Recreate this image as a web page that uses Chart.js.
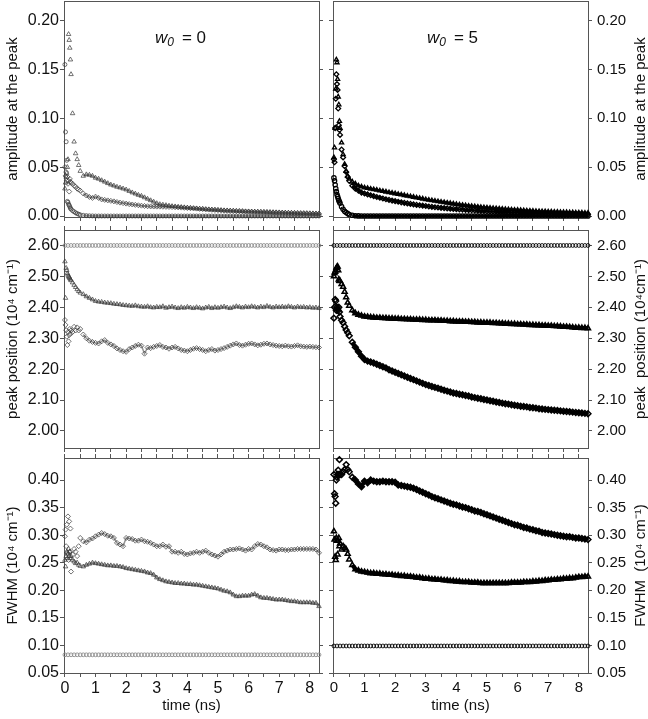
<!DOCTYPE html>
<html>
<head>
<meta charset="utf-8">
<script src="https://cdn.jsdelivr.net/npm/chart.js"></script>
<style>
    body { margin: 0; background: #fff; }
    #figure { position: relative; width: 648px; height: 719px; }
    #figure canvas { position: absolute; }
</style>
</head>
<body>
<div id="figure">
    <canvas id="ampL" width="330" height="230" style="left:0px;top:0px"></canvas>
    <canvas id="ampR" width="326" height="230" style="left:322px;top:0px"></canvas>
    <canvas id="posL" width="330" height="228" style="left:0px;top:225px"></canvas>
    <canvas id="posR" width="326" height="228" style="left:322px;top:225px"></canvas>
    <canvas id="fwhmL" width="330" height="266" style="left:0px;top:453px"></canvas>
    <canvas id="fwhmR" width="326" height="266" style="left:322px;top:453px"></canvas>
</div>
<script>
"use strict"


// time (ns) of the fitted spectra, finer at the start
const time = [
    0, 0.02, 0.04, 0.06, 0.08, 0.1, 0.12, 0.14, 0.16, 0.18, 0.2, 0.25, 0.3, 0.35, 0.4, 0.45, 0.5,
    0.6, 0.7, 0.8, 0.9, 1,
    1.1, 1.2, 1.3, 1.4, 1.5, 1.6, 1.7, 1.8, 1.9, 2,
    2.1, 2.2, 2.3, 2.4, 2.5, 2.6, 2.7, 2.8, 2.9, 3,
    3.1, 3.2, 3.3, 3.4, 3.5, 3.6, 3.7, 3.8, 3.9, 4,
    4.1, 4.2, 4.3, 4.4, 4.5, 4.6, 4.7, 4.8, 4.9, 5,
    5.1, 5.2, 5.3, 5.4, 5.5, 5.6, 5.7, 5.8, 5.9, 6,
    6.1, 6.2, 6.3, 6.4, 6.5, 6.6, 6.7, 6.8, 6.9, 7,
    7.1, 7.2, 7.3, 7.4, 7.5, 7.6, 7.7, 7.8, 7.9, 8,
    8.1, 8.2, 8.3
];

// time grid of the fixed (unrelaxed) band
const timeConst = [
    0, 0.1, 0.2, 0.3, 0.4, 0.5, 0.6, 0.7, 0.8, 0.9,
    1, 1.1, 1.2, 1.3, 1.4, 1.5, 1.6, 1.7, 1.8, 1.9,
    2, 2.1, 2.2, 2.3, 2.4, 2.5, 2.6, 2.7, 2.8, 2.9,
    3, 3.1, 3.2, 3.3, 3.4, 3.5, 3.6, 3.7, 3.8, 3.9,
    4, 4.1, 4.2, 4.3, 4.4, 4.5, 4.6, 4.7, 4.8, 4.9,
    5, 5.1, 5.2, 5.3, 5.4, 5.5, 5.6, 5.7, 5.8, 5.9,
    6, 6.1, 6.2, 6.3, 6.4, 6.5, 6.6, 6.7, 6.8, 6.9,
    7, 7.1, 7.2, 7.3, 7.4, 7.5, 7.6, 7.7, 7.8, 7.9,
    8, 8.1, 8.2, 8.3
];

// ---- amplitude at the peak, w0 = 0 ----
const ampCirL = [
    0.155, 0.086, 0.076, 0.057, 0.015, 0.014, 0.012, 0.011, 0.0095, 0.008, 0.007, 0.0055, 0.0044, 0.0033, 0.0025, 0.0018, 0.0012,
    0.0007, 0.0004, 0.0002, 0.0001, 0,
    0, 0, 0, 0, 0, 0, 0, 0, 0, 0,
    0, 0, 0, 0, 0, 0, 0, 0, 0, 0,
    0, 0, 0, 0, 0, 0, 0, 0, 0, 0,
    0, 0, 0, 0, 0, 0, 0, 0, 0, 0,
    0, 0, 0, 0, 0, 0, 0, 0, 0, 0,
    0, 0, 0, 0, 0, 0, 0, 0, 0, 0,
    0, 0, 0, 0, 0, 0, 0, 0, 0, 0,
    0, 0, 0
];
const ampTriL = [
    0.028, 0.034, 0.04, 0.044, 0.05, 0.058, 0.186, 0.18, 0.172, 0.16, 0.145, 0.105, 0.076, 0.064, 0.058, 0.052, 0.046,
    0.041, 0.0425, 0.042, 0.041, 0.039,
    0.038, 0.0365, 0.035, 0.0335, 0.032, 0.031, 0.0298, 0.029, 0.028, 0.027,
    0.0255, 0.024, 0.0228, 0.0215, 0.0205, 0.019, 0.0175, 0.016, 0.0145, 0.013,
    0.012, 0.0115, 0.011, 0.0105, 0.01, 0.0097, 0.0094, 0.0091, 0.0088, 0.0085,
    0.0082, 0.0079, 0.0077, 0.0074, 0.0072, 0.0069, 0.0067, 0.0065, 0.0063, 0.0061,
    0.0059, 0.0057, 0.0056, 0.0054, 0.0053, 0.0051, 0.005, 0.0049, 0.0047, 0.0046,
    0.0045, 0.0044, 0.0043, 0.0042, 0.0041, 0.004, 0.0039, 0.0038, 0.0037, 0.0036,
    0.0035, 0.0034, 0.0033, 0.0032, 0.0031, 0.003, 0.0029, 0.0028, 0.0028, 0.0027,
    0.0026, 0.0025, 0.0025
];
const ampDiaL = [
    0.05, 0.041, 0.045, 0.036, 0.04, 0.033, 0.036, 0.025, 0.038, 0.035, 0.034, 0.033, 0.031, 0.03, 0.028, 0.027, 0.026,
    0.023, 0.021, 0.0195, 0.0185, 0.0198,
    0.0185, 0.017, 0.0165, 0.016, 0.0155, 0.015, 0.0143, 0.0137, 0.0132, 0.0127,
    0.0122, 0.0118, 0.0114, 0.011, 0.0106, 0.0103, 0.01, 0.0098, 0.0097, 0.0096,
    0.0096, 0.0095, 0.0094, 0.0093, 0.0092, 0.009, 0.0088, 0.0086, 0.0084, 0.0082,
    0.008, 0.0078, 0.0076, 0.0073, 0.0071, 0.0068, 0.0066, 0.0064, 0.0062, 0.006,
    0.0058, 0.0056, 0.0055, 0.0053, 0.0052, 0.005, 0.0049, 0.0048, 0.0046, 0.0045,
    0.0044, 0.0043, 0.0042, 0.0041, 0.004, 0.0039, 0.0038, 0.0037, 0.0036, 0.0035,
    0.0034, 0.0033, 0.0032, 0.0031, 0.003, 0.0029, 0.0028, 0.0028, 0.0027, 0.0026,
    0.0025, 0.0025, 0.0024
];

// ---- amplitude at the peak, w0 = 5 ----
const ampCirR = [
    0.039, 0.036, 0.032, 0.028, 0.025, 0.022, 0.02, 0.018, 0.016, 0.0145, 0.013, 0.0096, 0.007, 0.0048, 0.0035, 0.0025, 0.0015,
    0.0008, 0.0003, 0.0001, 0, 0,
    0, 0, 0, 0, 0, 0, 0, 0, 0, 0,
    0, 0, 0, 0, 0, 0, 0, 0, 0, 0,
    0, 0, 0, 0, 0, 0, 0, 0, 0, 0,
    0, 0, 0, 0, 0, 0, 0, 0, 0, 0,
    0, 0, 0, 0, 0, 0, 0, 0, 0, 0,
    0, 0, 0, 0, 0, 0, 0, 0, 0, 0,
    0, 0, 0, 0, 0, 0, 0, 0, 0, 0,
    0, 0, 0
];
const ampTriR = [
    0.06, 0.07, 0.09, 0.13, 0.16, 0.157, 0.14, 0.122, 0.114, 0.097, 0.09, 0.075, 0.063, 0.053, 0.046, 0.041, 0.038,
    0.035, 0.033, 0.031, 0.03, 0.029,
    0.0284, 0.0278, 0.0272, 0.0266, 0.026, 0.0254, 0.0248, 0.0242, 0.0236, 0.023,
    0.0224, 0.0218, 0.0212, 0.0206, 0.02, 0.0194, 0.0188, 0.0182, 0.0176, 0.017,
    0.0165, 0.016, 0.0155, 0.015, 0.0145, 0.014, 0.0135, 0.013, 0.0125, 0.012,
    0.0116, 0.0112, 0.0108, 0.0104, 0.01, 0.0097, 0.0094, 0.0091, 0.0088, 0.0085,
    0.0082, 0.0079, 0.0077, 0.0074, 0.0072, 0.0069, 0.0067, 0.0065, 0.0063, 0.0061,
    0.0059, 0.0057, 0.0055, 0.0053, 0.0051, 0.005, 0.0048, 0.0047, 0.0046, 0.0044,
    0.0043, 0.0042, 0.0041, 0.004, 0.0039, 0.0038, 0.0037, 0.0036, 0.0035, 0.0034,
    0.0033, 0.0032, 0.0032
];
const ampDiaR = [
    0.058, 0.055, 0.09, 0.12, 0.145, 0.135, 0.129, 0.11, 0.093, 0.088, 0.083, 0.068, 0.06, 0.051, 0.045, 0.04, 0.036,
    0.031, 0.028, 0.026, 0.024, 0.023,
    0.0221, 0.0212, 0.0203, 0.0195, 0.0187, 0.0179, 0.0172, 0.0165, 0.0158, 0.0152,
    0.0146, 0.014, 0.0134, 0.0129, 0.0124, 0.0119, 0.0114, 0.011, 0.0106, 0.0102,
    0.0098, 0.0094, 0.009, 0.0087, 0.0084, 0.0081, 0.0078, 0.0075, 0.0072, 0.007,
    0.0068, 0.0066, 0.0063, 0.0061, 0.0059, 0.0057, 0.0055, 0.0053, 0.0051, 0.0049,
    0.0047, 0.0046, 0.0044, 0.0043, 0.0041, 0.004, 0.0039, 0.0037, 0.0036, 0.0035,
    0.0034, 0.0033, 0.0032, 0.0031, 0.003, 0.0029, 0.0028, 0.0027, 0.0027, 0.0026,
    0.0025, 0.0024, 0.0024, 0.0023, 0.0022, 0.0022, 0.0021, 0.0021, 0.002, 0.002,
    0.0019, 0.0019, 0.0018
];

// ---- peak position (10^4 cm-1), w0 = 0 ----
const posConstL = [
    2.6, 2.6, 2.6, 2.6, 2.6, 2.6, 2.6, 2.6, 2.6, 2.6,
    2.6, 2.6, 2.6, 2.6, 2.6, 2.6, 2.6, 2.6, 2.6, 2.6,
    2.6, 2.6, 2.6, 2.6, 2.6, 2.6, 2.6, 2.6, 2.6, 2.6,
    2.6, 2.6, 2.6, 2.6, 2.6, 2.6, 2.6, 2.6, 2.6, 2.6,
    2.6, 2.6, 2.6, 2.6, 2.6, 2.6, 2.6, 2.6, 2.6, 2.6,
    2.6, 2.6, 2.6, 2.6, 2.6, 2.6, 2.6, 2.6, 2.6, 2.6,
    2.6, 2.6, 2.6, 2.6, 2.6, 2.6, 2.6, 2.6, 2.6, 2.6,
    2.6, 2.6, 2.6, 2.6, 2.6, 2.6, 2.6, 2.6, 2.6, 2.6,
    2.6, 2.6, 2.6, 2.6
];
const posTriL = [
    2.548, 2.43, 2.527, 2.52, 2.51, 2.505, 2.5, 2.497, 2.494, 2.49, 2.487, 2.48, 2.472, 2.465, 2.458, 2.452, 2.447,
    2.442, 2.435, 2.43, 2.425, 2.42,
    2.418, 2.417, 2.415, 2.414, 2.413, 2.411, 2.41, 2.409, 2.407, 2.406,
    2.405, 2.404, 2.406, 2.403, 2.402, 2.401, 2.403, 2.4, 2.399, 2.401,
    2.4, 2.403, 2.398, 2.4, 2.402, 2.399, 2.397, 2.4, 2.398, 2.401,
    2.399, 2.397, 2.4, 2.398, 2.396, 2.399, 2.401, 2.397, 2.4, 2.398,
    2.4, 2.402, 2.399, 2.397, 2.4, 2.403, 2.401, 2.399, 2.402, 2.4,
    2.403, 2.401, 2.399, 2.402, 2.4, 2.404, 2.401, 2.399, 2.402, 2.4,
    2.402, 2.4, 2.403, 2.401, 2.399, 2.402, 2.4, 2.401, 2.399, 2.4,
    2.398, 2.399, 2.397
];
const posDiaL = [
    2.359, 2.343, 2.326, 2.305, 2.278, 2.32, 2.29, 2.31, 2.33, 2.315, 2.325, 2.32, 2.337, 2.325, 2.335, 2.325, 2.33,
    2.312, 2.3, 2.292, 2.288, 2.285,
    2.283, 2.29, 2.294, 2.285, 2.28, 2.275, 2.267, 2.262, 2.258, 2.256,
    2.265, 2.27, 2.275, 2.279, 2.276, 2.25, 2.27, 2.268, 2.272, 2.275,
    2.278, 2.272, 2.27, 2.266, 2.27, 2.272, 2.267, 2.262, 2.26, 2.258,
    2.262, 2.266, 2.268, 2.265, 2.262, 2.258, 2.262, 2.265, 2.26, 2.262,
    2.265, 2.268, 2.272, 2.276, 2.28, 2.283, 2.278, 2.276, 2.279, 2.282,
    2.283, 2.28, 2.277, 2.279, 2.282, 2.283, 2.28, 2.278, 2.276, 2.275,
    2.274, 2.276, 2.274, 2.273, 2.275, 2.277, 2.274, 2.273, 2.272, 2.273,
    2.272, 2.271, 2.27
];

// ---- peak position (10^4 cm-1), w0 = 5 ----
const posConstR = [
    2.6, 2.6, 2.6, 2.6, 2.6, 2.6, 2.6, 2.6, 2.6, 2.6,
    2.6, 2.6, 2.6, 2.6, 2.6, 2.6, 2.6, 2.6, 2.6, 2.6,
    2.6, 2.6, 2.6, 2.6, 2.6, 2.6, 2.6, 2.6, 2.6, 2.6,
    2.6, 2.6, 2.6, 2.6, 2.6, 2.6, 2.6, 2.6, 2.6, 2.6,
    2.6, 2.6, 2.6, 2.6, 2.6, 2.6, 2.6, 2.6, 2.6, 2.6,
    2.6, 2.6, 2.6, 2.6, 2.6, 2.6, 2.6, 2.6, 2.6, 2.6,
    2.6, 2.6, 2.6, 2.6, 2.6, 2.6, 2.6, 2.6, 2.6, 2.6,
    2.6, 2.6, 2.6, 2.6, 2.6, 2.6, 2.6, 2.6, 2.6, 2.6,
    2.6, 2.6, 2.6, 2.6
];
const posTriR = [
    2.5, 2.51, 2.515, 2.52, 2.527, 2.53, 2.532, 2.52, 2.49, 2.486, 2.485, 2.475, 2.466, 2.45, 2.432, 2.415, 2.405,
    2.39, 2.381, 2.376, 2.373, 2.37,
    2.369, 2.368, 2.367, 2.366, 2.366, 2.365, 2.365, 2.364, 2.364, 2.363,
    2.363, 2.362, 2.362, 2.361, 2.361, 2.36, 2.36, 2.36, 2.359, 2.359,
    2.358, 2.358, 2.358, 2.357, 2.357, 2.356, 2.356, 2.355, 2.355, 2.354,
    2.354, 2.354, 2.353, 2.353, 2.352, 2.352, 2.351, 2.351, 2.35, 2.35,
    2.35, 2.349, 2.349, 2.348, 2.348, 2.347, 2.347, 2.346, 2.346, 2.345,
    2.345, 2.344, 2.344, 2.343, 2.343, 2.342, 2.342, 2.341, 2.341, 2.34,
    2.34, 2.339, 2.339, 2.338, 2.337, 2.337, 2.336, 2.335, 2.334, 2.334,
    2.333, 2.333, 2.332
];
const posDiaR = [
    2.365, 2.4, 2.425, 2.42, 2.39, 2.4, 2.395, 2.39, 2.4, 2.385, 2.37, 2.358, 2.35, 2.338, 2.327, 2.318, 2.308,
    2.287, 2.271, 2.256, 2.242, 2.231,
    2.226, 2.223, 2.22, 2.216, 2.212, 2.208, 2.204, 2.198, 2.194, 2.19,
    2.186, 2.182, 2.178, 2.174, 2.17, 2.166, 2.162, 2.158, 2.154, 2.15,
    2.147, 2.144, 2.141, 2.138, 2.135, 2.132, 2.129, 2.126, 2.123, 2.121,
    2.119, 2.117, 2.115, 2.113, 2.11, 2.108, 2.106, 2.104, 2.102, 2.1,
    2.098, 2.096, 2.094, 2.092, 2.09, 2.088, 2.087, 2.085, 2.083, 2.082,
    2.08, 2.079, 2.078, 2.076, 2.075, 2.074, 2.072, 2.071, 2.07, 2.069,
    2.068, 2.067, 2.066, 2.065, 2.064, 2.063, 2.062, 2.061, 2.06, 2.059,
    2.058, 2.057, 2.056
];

// ---- FWHM (10^4 cm-1), w0 = 0 ----
const fwhmConstL = [
    0.083, 0.083, 0.083, 0.083, 0.083, 0.083, 0.083, 0.083, 0.083, 0.083,
    0.083, 0.083, 0.083, 0.083, 0.083, 0.083, 0.083, 0.083, 0.083, 0.083,
    0.083, 0.083, 0.083, 0.083, 0.083, 0.083, 0.083, 0.083, 0.083, 0.083,
    0.083, 0.083, 0.083, 0.083, 0.083, 0.083, 0.083, 0.083, 0.083, 0.083,
    0.083, 0.083, 0.083, 0.083, 0.083, 0.083, 0.083, 0.083, 0.083, 0.083,
    0.083, 0.083, 0.083, 0.083, 0.083, 0.083, 0.083, 0.083, 0.083, 0.083,
    0.083, 0.083, 0.083, 0.083, 0.083, 0.083, 0.083, 0.083, 0.083, 0.083,
    0.083, 0.083, 0.083, 0.083, 0.083, 0.083, 0.083, 0.083, 0.083, 0.083,
    0.083, 0.083, 0.083, 0.083
];
const fwhmDiaL = [
    0.298, 0.31, 0.28, 0.319, 0.268, 0.334, 0.255, 0.325, 0.27, 0.312, 0.234, 0.265, 0.275, 0.27, 0.262, 0.28, 0.295,
    0.289, 0.287, 0.292, 0.294, 0.298,
    0.301, 0.304, 0.302, 0.299, 0.298, 0.295, 0.286, 0.283, 0.28, 0.295,
    0.294, 0.293, 0.29, 0.29, 0.292, 0.289, 0.288, 0.286, 0.283, 0.28,
    0.28, 0.283, 0.279, 0.28, 0.27, 0.27, 0.268, 0.27, 0.266, 0.265,
    0.267, 0.268, 0.27, 0.268, 0.27, 0.272, 0.268, 0.265, 0.263, 0.261,
    0.265, 0.27, 0.272, 0.274, 0.274, 0.275, 0.276, 0.274, 0.272, 0.275,
    0.274, 0.28, 0.284, 0.283, 0.28, 0.278, 0.274, 0.273, 0.272, 0.274,
    0.274, 0.273, 0.273, 0.274, 0.274, 0.275, 0.275, 0.275, 0.275, 0.275,
    0.275, 0.274, 0.268
];
const fwhmTriL = [
    0.255, 0.243, 0.262, 0.27, 0.258, 0.266, 0.275, 0.262, 0.27, 0.258, 0.262, 0.255, 0.252, 0.249, 0.25, 0.246, 0.244,
    0.243, 0.246, 0.248, 0.25, 0.249,
    0.248, 0.247, 0.246, 0.245, 0.245, 0.244, 0.244, 0.243, 0.242, 0.24,
    0.239, 0.238, 0.237, 0.236, 0.235, 0.234, 0.232, 0.231, 0.228, 0.223,
    0.22, 0.218, 0.216, 0.215, 0.214, 0.213, 0.213, 0.212, 0.212, 0.211,
    0.211, 0.21, 0.21, 0.209, 0.208, 0.207, 0.206, 0.205, 0.204, 0.203,
    0.201, 0.199, 0.198, 0.196, 0.192, 0.189, 0.189, 0.19, 0.19, 0.19,
    0.192, 0.193, 0.19, 0.187, 0.186, 0.186, 0.185, 0.184, 0.183, 0.183,
    0.183, 0.182, 0.181, 0.18, 0.18, 0.179, 0.178, 0.178, 0.178, 0.178,
    0.177, 0.177, 0.171
];

// ---- FWHM (10^4 cm-1), w0 = 5 ----
const fwhmConstR = [
    0.099, 0.099, 0.099, 0.099, 0.099, 0.099, 0.099, 0.099, 0.099, 0.099,
    0.099, 0.099, 0.099, 0.099, 0.099, 0.099, 0.099, 0.099, 0.099, 0.099,
    0.099, 0.099, 0.099, 0.099, 0.099, 0.099, 0.099, 0.099, 0.099, 0.099,
    0.099, 0.099, 0.099, 0.099, 0.099, 0.099, 0.099, 0.099, 0.099, 0.099,
    0.099, 0.099, 0.099, 0.099, 0.099, 0.099, 0.099, 0.099, 0.099, 0.099,
    0.099, 0.099, 0.099, 0.099, 0.099, 0.099, 0.099, 0.099, 0.099, 0.099,
    0.099, 0.099, 0.099, 0.099, 0.099, 0.099, 0.099, 0.099, 0.099, 0.099,
    0.099, 0.099, 0.099, 0.099, 0.099, 0.099, 0.099, 0.099, 0.099, 0.099,
    0.099, 0.099, 0.099, 0.099
];
const fwhmDiaR = [
    0.41, 0.375, 0.37, 0.358, 0.4, 0.405, 0.41, 0.418, 0.41, 0.437, 0.41, 0.41, 0.415, 0.419, 0.428, 0.419, 0.415,
    0.405, 0.4, 0.393, 0.388, 0.398,
    0.395, 0.4, 0.398, 0.397, 0.397, 0.398, 0.397, 0.397, 0.397, 0.396,
    0.391, 0.39, 0.389, 0.388, 0.387, 0.385, 0.383, 0.38, 0.378, 0.375,
    0.373, 0.37, 0.368, 0.366, 0.364, 0.362, 0.36, 0.358, 0.356, 0.355,
    0.353, 0.351, 0.35, 0.348, 0.346, 0.344, 0.343, 0.341, 0.339, 0.337,
    0.335, 0.333, 0.331, 0.329, 0.327, 0.325, 0.323, 0.321, 0.319, 0.318,
    0.316, 0.314, 0.313, 0.311, 0.31, 0.308, 0.307, 0.305, 0.304, 0.303,
    0.302, 0.301, 0.3, 0.299, 0.298, 0.297, 0.297, 0.296, 0.295, 0.295,
    0.294, 0.293, 0.292
];
const fwhmTriR = [
    0.307, 0.292, 0.261, 0.255, 0.295, 0.29, 0.265, 0.29, 0.295, 0.28, 0.285, 0.274, 0.28, 0.277, 0.274, 0.266, 0.256,
    0.246, 0.238, 0.236, 0.234, 0.233,
    0.232, 0.231, 0.231, 0.23, 0.23, 0.229, 0.229, 0.228, 0.228, 0.227,
    0.227, 0.226, 0.226, 0.225, 0.225, 0.224, 0.223, 0.223, 0.222, 0.221,
    0.221, 0.22, 0.22, 0.219, 0.219, 0.218, 0.218, 0.217, 0.217, 0.216,
    0.216, 0.215, 0.215, 0.215, 0.214, 0.214, 0.214, 0.213, 0.213, 0.213,
    0.213, 0.213, 0.213, 0.213, 0.213, 0.213, 0.213, 0.214, 0.214, 0.214,
    0.214, 0.215, 0.215, 0.215, 0.216, 0.216, 0.217, 0.217, 0.218, 0.218,
    0.219, 0.219, 0.22, 0.22, 0.221, 0.221, 0.222, 0.222, 0.223, 0.224,
    0.224, 0.225, 0.225
];


const look =
{
    ink: '#111',
    frame: '#555',
    family: 'Arial, "Liberation Sans", sans-serif',
    greyDense: 'rgba(55,55,55,0.7)',
    greyBand: 'rgba(60,60,60,0.55)',
    greyConst: '#8c8c8c',
    black: '#000'
};


// italic w with subscript 0 in the panel, and the right-hand axis titles read bottom to top
const panelText =
{
    id: 'panelText',
    afterDraw(chart, args, opts)
    {
        const ctx = chart.ctx;
        const area = chart.chartArea;
        ctx.save();
        ctx.fillStyle = look.ink;

        if (opts.tag !== undefined)
        {
            let x = area.left + opts.tagX;
            const y = area.top + 42;
            ctx.textBaseline = 'alphabetic';
            ctx.font = 'italic 17px ' + look.family;
            ctx.fillText('w', x, y);
            x += ctx.measureText('w').width;
            ctx.font = 'italic 12px ' + look.family;
            ctx.fillText('0', x, y + 3);
            x += ctx.measureText('0').width + 8;
            ctx.font = '17px ' + look.family;
            ctx.fillText('= ' + opts.tag, x, y);
        }

        if (opts.rightTitle)
        {
            ctx.translate(chart.width - 7, (area.top + area.bottom) / 2);
            ctx.rotate(-Math.PI / 2);
            ctx.textAlign = 'center';
            ctx.textBaseline = 'middle';
            ctx.font = '15px ' + look.family;
            ctx.fillText(opts.rightTitle, 0, 0);
        }
        ctx.restore();
    }
};


// hollow markers; where the samples crowd together (after ~0.5 ns) a joining band fills the gaps
function markers(xs, ys, style, radius, color, width, band, bandColor)
{
    return {
        data: xs.map((x, i) => ({ x: x, y: ys[i] })),
        pointStyle: style,
        pointRadius: radius,
        pointHoverRadius: radius,
        pointBorderWidth: width,
        pointBorderColor: color,
        pointBackgroundColor: 'rgba(0,0,0,0)',
        showLine: band > 0,
        borderWidth: band || 0,
        borderColor: bandColor || color,
        segment:
        {
            borderColor: ctx => ctx.p0.parsed.x < 0.55 ? 'rgba(0,0,0,0)' : undefined
        },
        clip: false
    };
}


// fixed box sizes so that the six plot areas line up like the original figure
function fixSize(size)
{
    return s =>
    {
        if (s.isHorizontal()) s.height = size;
        else s.width = size;
        s.paddingTop = 0;
        s.paddingBottom = 0;
        s.paddingLeft = 0;
        s.paddingRight = 0;
    };
}


function panel(id, side, row, yAxis, datasets, tag)
{
    const left = side === 'L';
    const tickFont = { family: look.family, size: left ? 16 : 15 };
    const titleFont = { family: look.family, size: 15 };
    const xRange = { min: -0.03, max: 8.3 };

    const bottomHeight = { top: 13, mid: 5, bottom: 46 }[row];

    const scales =
    {
        x:
        {
            type: 'linear', axis: 'x', position: 'bottom',
            min: xRange.min, max: xRange.max,
            ticks:
            {
                stepSize: 0.5, includeBounds: false, display: row === 'bottom',
                font: tickFont, color: look.ink, padding: 2, maxRotation: 0,
                callback: v => Math.abs(v - Math.round(v)) < 1e-6 ? String(Math.round(v)) : ''
            },
            grid: { drawOnChartArea: false, tickLength: 4, color: look.frame },
            border: { color: look.frame },
            title: { display: row === 'bottom', text: 'time (ns)', font: titleFont, color: look.ink },
            afterFit: fixSize(bottomHeight)
        },
        xt:
        {
            type: 'linear', axis: 'x', position: 'top',
            min: xRange.min, max: xRange.max,
            ticks: { stepSize: 0.5, includeBounds: false, display: false },
            grid: { drawOnChartArea: false, drawTicks: row !== 'top', tickLength: 4, color: look.frame },
            border: { color: look.frame },
            afterFit: fixSize(row === 'top' ? 1 : 5)
        },
        y:
        {
            type: 'linear', axis: 'y', position: left ? 'left' : 'right',
            min: yAxis.min, max: yAxis.max,
            ticks:
            {
                stepSize: yAxis.step, includeBounds: false,
                font: tickFont, color: look.ink, padding: left ? 1 : 5,
                callback: v => v.toFixed(2)
            },
            grid: { drawOnChartArea: false, tickLength: 4, color: look.frame },
            border: { color: look.frame },
            title: { display: left, text: yAxis.title, font: titleFont, color: look.ink },
            afterFit: fixSize(left ? 64 : 60)
        },
        y2:
        {
            type: 'linear', axis: 'y', position: left ? 'right' : 'left',
            min: yAxis.min, max: yAxis.max,
            ticks: { stepSize: yAxis.step, includeBounds: false, display: false },
            grid: { drawOnChartArea: false, tickLength: 4, color: look.frame },
            border: { color: look.frame },
            afterFit: fixSize(11)
        }
    };

    new Chart(document.getElementById(id),
    {
        type: 'scatter',
        data: { datasets: datasets },
        options:
        {
            responsive: false,
            animation: false,
            events: [],
            layout: { padding: 0, autoPadding: false },
            scales: scales,
            plugins:
            {
                legend: { display: false },
                tooltip: { enabled: false },
                panelText:
                {
                    tag: tag ? tag.text : undefined,
                    tagX: tag ? tag.x : 0,
                    rightTitle: left ? null : yAxis.title
                }
            }
        },
        plugins: [panelText]
    });
}


window.onload = () =>
{
    Chart.defaults.font.family = look.family;
    Chart.defaults.color = look.ink;

    const ampAxis = { min: -0.001, max: 0.22, step: 0.05, title: 'amplitude at the peak' };
    const posAxisL = { min: 1.945, max: 2.65, step: 0.1, title: 'peak position (10\u2074 cm\u207B\u00B9)' };
    const posAxisR = { min: 1.945, max: 2.65, step: 0.1, title: 'peak  position (10\u2074cm\u207B\u00B9)' };
    const fwhmAxisL = { min: 0.05, max: 0.44, step: 0.05, title: 'FWHM (10\u2074 cm\u207B\u00B9)' };
    const fwhmAxisR = { min: 0.05, max: 0.44, step: 0.05, title: 'FWHM  (10\u2074 cm\u207B\u00B9)' };

    const g = look.greyDense;
    const gb = look.greyBand;
    const k = look.black;

    panel('ampL', 'L', 'top', ampAxis,
    [
        markers(time, ampCirL, 'circle', 2, g, 1, 2, gb),
        markers(time, ampDiaL, 'rectRot', 2.5, g, 1, 2, gb),
        markers(time, ampTriL, 'triangle', 2.6, g, 1, 2, gb)
    ], { text: '0', x: 91 });

    panel('ampR', 'R', 'top', ampAxis,
    [
        markers(time, ampCirR, 'circle', 2.2, k, 1.2, 3),
        markers(time, ampDiaR, 'rectRot', 2.4, k, 1.3, 2.5),
        markers(time, ampTriR, 'triangle', 2.4, k, 1.3, 2.5)
    ], { text: '5', x: 94 });

    panel('posL', 'L', 'mid', posAxisL,
    [
        markers(timeConst, posConstL, 'circle', 1.9, look.greyConst, 0.9),
        markers(time, posTriL, 'triangle', 2.6, g, 1, 2, gb),
        markers(time, posDiaL, 'rectRot', 2.5, g, 1, 1.5, gb)
    ]);

    panel('posR', 'R', 'mid', posAxisR,
    [
        markers(timeConst, posConstR, 'circle', 1.9, k, 0.9),
        markers(time, posTriR, 'triangle', 2.9, k, 1.5, 4),
        markers(time, posDiaR, 'rectRot', 2.9, k, 1.5, 4)
    ]);

    panel('fwhmL', 'L', 'bottom', fwhmAxisL,
    [
        markers(timeConst, fwhmConstL, 'circle', 1.9, look.greyConst, 0.9),
        markers(time, fwhmDiaL, 'rectRot', 2.5, g, 1, 1.5, gb),
        markers(time, fwhmTriL, 'triangle', 2.6, g, 1, 2.5, gb)
    ]);

    panel('fwhmR', 'R', 'bottom', fwhmAxisR,
    [
        markers(timeConst, fwhmConstR, 'circle', 1.9, k, 0.9),
        markers(time, fwhmDiaR, 'rectRot', 2.9, k, 1.5, 4),
        markers(time, fwhmTriR, 'triangle', 2.9, k, 1.5, 4)
    ]);
}
</script>
</body>
</html>
